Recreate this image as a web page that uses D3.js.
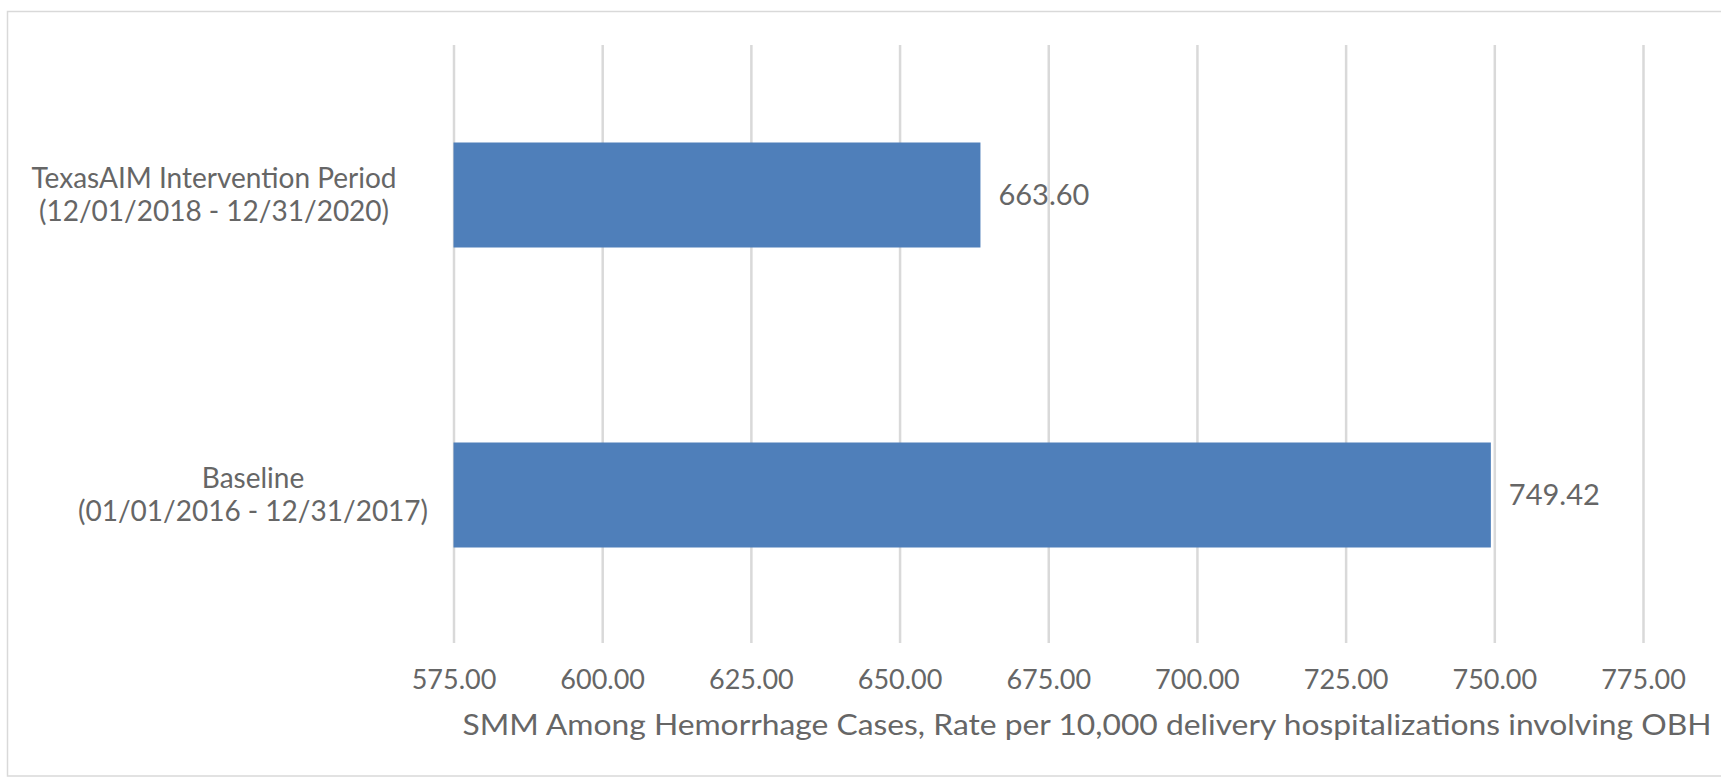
<!DOCTYPE html>
<html>
<head>
<meta charset="utf-8">
<title>SMM Among Hemorrhage Cases</title>
<style>
  body { margin: 0; background: #fff; }
  svg { display: block; }
  text { font-family: Lato, "Noto Sans", sans-serif; fill: #666; }
</style>
</head>
<body>
<svg width="1721" height="778"></svg>
<script src="https://d3js.org/d3.v7.min.js"></script>
<script>
// data
var categories = [
  ["TexasAIM Intervention Period", "(12/01/2018 - 12/31/2020)"],
  ["Baseline", "(01/01/2016 - 12/31/2017)"]
];
var values = [663.60, 749.42];
var ticks = [575, 600, 625, 650, 675, 700, 725, 750, 775];
var xTitle = "SMM Among Hemorrhage Cases, Rate per 10,000 delivery hospitalizations involving OBH";

var svg = d3.select("svg");
var fontSize = 27;

// chart frame
svg.append("rect")
  .attr("x", 7.5).attr("y", 11.5)
  .attr("width", 1725).attr("height", 764.5)
  .attr("fill", "none").attr("stroke", "#d9d9d9").attr("stroke-width", 1.5);

var plot = { left: 453.5, right: 1643, top: 45, bottom: 645 };

var x = d3.scaleLinear().domain([575, 775]).range([plot.left, plot.right]);
var y = d3.scaleBand()
  .domain(d3.range(categories.length))
  .range([plot.top, plot.bottom])
  .paddingInner(0.65)
  .paddingOuter(0.325);

// gridlines + tick labels via an axis
var xAxis = d3.axisBottom(x)
  .tickValues(ticks)
  .tickSize(-(plot.bottom - 2 - plot.top))
  .tickPadding(27)
  .tickFormat(d3.format(".2f"));

var gx = svg.append("g")
  .attr("transform", "translate(0," + (plot.bottom - 2) + ")")
  .call(xAxis);
gx.select(".domain").remove();
gx.selectAll(".tick line").attr("stroke", "#d9d9d9").attr("stroke-width", 2.5);
gx.selectAll(".tick text")
  .style("font-size", fontSize + "px")
  .attr("fill", "#666");
gx.attr("font-family", null).attr("font-size", null);

// bars
svg.selectAll("rect.bar")
  .data(values)
  .enter().append("rect")
  .attr("class", "bar")
  .attr("x", x(575))
  .attr("y", function(d, i) { return y(i); })
  .attr("width", function(d) { return x(d) - x(575); })
  .attr("height", y.bandwidth())
  .attr("fill", "#4f7fba");

// value labels
svg.selectAll("text.val")
  .data(values)
  .enter().append("text")
  .attr("class", "val")
  .attr("x", function(d) { return x(d) + 18; })
  .attr("y", function(d, i) { return y(i) + y.bandwidth() / 2; })
  .attr("dy", "0.35em")
  .style("font-size", "29px")
  .text(function(d) { return d3.format(".2f")(d); });

// category labels (two lines, centred within each block)
var labelCenter = [214, 253];
var lineGap = 33;
categories.forEach(function(lines, i) {
  var cy = y(i) + y.bandwidth() / 2;
  var t = svg.append("text")
    .attr("text-anchor", "middle")
    .style("font-size", "28px");
  lines.forEach(function(line, j) {
    t.append("tspan")
      .attr("x", labelCenter[i])
      .attr("y", cy + (j - (lines.length - 1) / 2) * lineGap)
      .attr("dy", "0.35em")
      .text(line);
  });
});

// axis title
svg.append("text")
  .attr("x", 1087)
  .attr("y", 735)
  .attr("text-anchor", "middle")
  .attr("textLength", 1249)
  .attr("lengthAdjust", "spacingAndGlyphs")
  .style("font-size", "29px")
  .text(xTitle);
</script>
</body>
</html>
